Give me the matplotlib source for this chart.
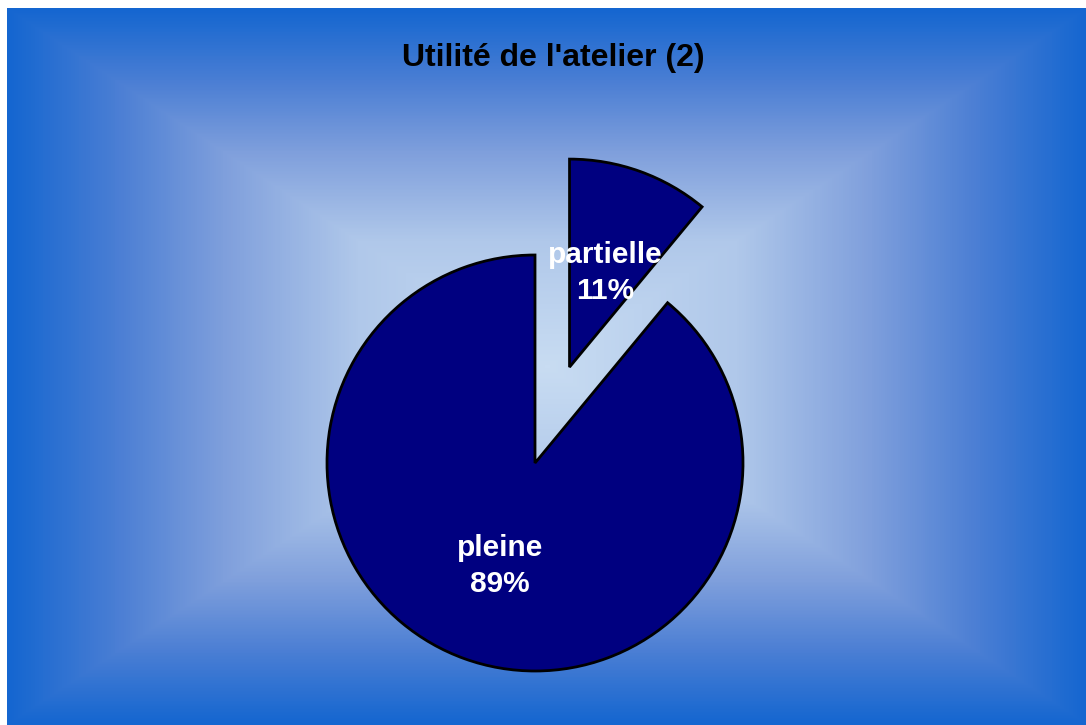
import numpy as np
import matplotlib
matplotlib.use("agg")
import matplotlib.pyplot as plt
from matplotlib.colors import LinearSegmentedColormap

labels = ["partielle", "pleine"]
values = [11, 89]
title = "Utilité de l'atelier (2)"

plt.rcParams['font.family'] = ['Liberation Sans', 'DejaVu Sans']

fig = plt.figure(figsize=(10.86, 7.25), dpi=100)

# background: rectangular gradient, light centre, blue edges
bg = fig.add_axes([7/1086, 0, 1 - 7/1086, 1 - 8/725])
bg.set_axis_off()
h, w = 717, 1079
yy, xx = np.mgrid[0:h, 0:w]
cx, cy = 540, 358
tx = np.abs(xx - cx) / cx
ty = np.abs(yy - cy) / cy
t = np.maximum(tx, ty)
cmap = LinearSegmentedColormap.from_list(
    "bg", [(0, "#c8dcf2"), (0.35, "#b0c8ea"), (0.6, "#7f9fdc"),
           (0.8, "#4a7ed4"), (1, "#1466d0")])
bg.imshow(t, cmap=cmap, vmin=0, vmax=1, aspect="auto", interpolation="bilinear")

# pie
ax = fig.add_axes([0, 0, 1, 1])
r = 208
wedges, texts = ax.pie(values, startangle=90, counterclock=False,
                       colors=["#000080", "#000080"], explode=[0.49 * r, 0],
                       center=(535, -463), radius=r,
                       wedgeprops=dict(edgecolor="black", linewidth=2),
                       frame=True)
ax.set_xlim(0, 1086)
ax.set_ylim(-725, 0)
ax.set_axis_off()
for tx_ in texts:
    tx_.set_visible(False)

pos = [(605, -273), (500, -566)]
for lab, v, p in zip(labels, values, pos):
    ax.text(p[0], p[1], f"{lab}\n{v}%", ha="center", va="center", color="white",
            fontsize=21.5, fontweight="bold", linespacing=1.4)

fig.text(553 / 1086, 1 - 58 / 725, title, ha="center", va="center",
         fontsize=23, fontweight="bold", color="black")

fig.savefig("out.png", dpi=100, facecolor="white")
